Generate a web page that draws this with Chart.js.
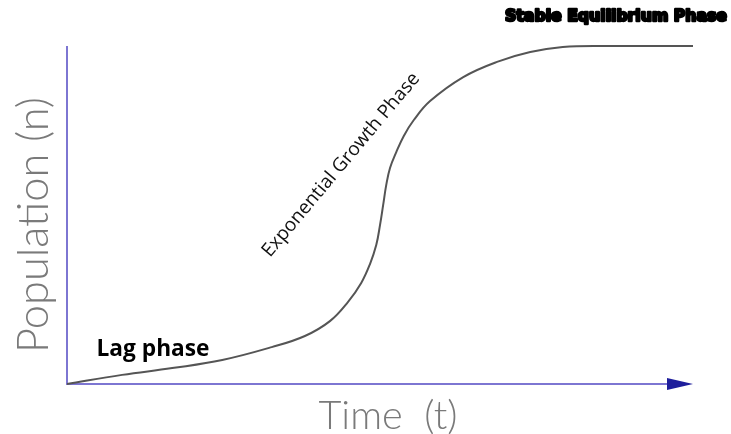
<!DOCTYPE html>
<html>
<head>
<meta charset="utf-8">
<script src="https://cdn.jsdelivr.net/npm/chart.js@4.4.1/dist/chart.umd.min.js"></script>
<style>
  html, body { margin: 0; padding: 0; background: #fff; }
  #wrap { width: 731px; height: 434px; position: relative; }
</style>
</head>
<body>
<div id="wrap"><canvas id="growthChart"></canvas></div>
<script>
// growth curve (time in % of axis, population in % of plateau)
const timeValues = [0, 8.8, 16.8, 24.8, 32.7, 38.0, 42.0, 44.9, 47.0, 48.4, 49.4, 50.0, 50.5, 51.0, 51.6, 52.6, 53.8, 55.4, 58.0, 63.3, 68.7, 74.0, 79.2, 85.1, 100];
const populationValues = [0, 2.7, 4.7, 7.1, 10.9, 14.2, 18.6, 24.3, 29.9, 35.5, 41.1, 47.0, 52.9, 58.9, 63.9, 68.6, 73.4, 78.1, 83.7, 90.8, 95.3, 98.2, 99.7, 100, 100];

const xTitle = 'Time  (t)';
const yTitle = 'Population (n)';
const phaseLabels = ['Lag phase', 'Exponential Growth Phase', 'Stable Equilibrium Phase'];

const points = timeValues.map((t, i) => ({ x: t, y: populationValues[i] }));

// size a font so the text spans the given width
function fitFont(ctx, text, weight, family, width) {
    ctx.font = `${weight} 20px ${family}`;
    const w = ctx.measureText(text).width;
    return `${weight} ${(20 * width / w).toFixed(2)}px ${family}`;
}

const axesPlugin = {
    id: 'axesPlugin',
    beforeDatasetsDraw(chart) {
        const { ctx, scales: { x, y } } = chart;
        const x0 = x.getPixelForValue(0), xEnd = x.getPixelForValue(100);
        const y0 = y.getPixelForValue(0), yTop = y.getPixelForValue(100);
        ctx.save();
        ctx.strokeStyle = '#7d76d2';
        ctx.lineWidth = 2;
        ctx.beginPath();
        ctx.moveTo(x0, yTop);
        ctx.lineTo(x0, y0);
        ctx.lineTo(xEnd - 20, y0);
        ctx.stroke();
        // arrow head
        ctx.fillStyle = '#1e1e9c';
        ctx.beginPath();
        ctx.moveTo(xEnd - 26, y0 - 6);
        ctx.lineTo(xEnd, y0);
        ctx.lineTo(xEnd - 26, y0 + 6);
        ctx.closePath();
        ctx.fill();
        ctx.restore();
    },
    afterDraw(chart) {
        const { ctx } = chart;
        ctx.save();
        ctx.textAlign = 'center';
        ctx.textBaseline = 'middle';

        // axis titles
        ctx.fillStyle = '#7a7a7a';
        ctx.font = fitFont(ctx, xTitle, 300, 'Lato, "DejaVu Sans", sans-serif', 139);
        ctx.fillText(xTitle, 388, 416);

        ctx.save();
        ctx.translate(34, 225);
        ctx.rotate(-Math.PI / 2);
        ctx.font = fitFont(ctx, yTitle, 300, 'Lato, "DejaVu Sans", sans-serif', 256);
        ctx.fillText(yTitle, 0, 0);
        ctx.restore();

        // phase labels
        ctx.fillStyle = '#000';
        ctx.font = fitFont(ctx, phaseLabels[0], 'bold', '"Open Sans", sans-serif', 113);
        ctx.fillText(phaseLabels[0], 153, 350);

        ctx.save();
        ctx.translate(341, 165);
        ctx.rotate(-50 * Math.PI / 180);
        ctx.fillStyle = '#111';
        ctx.font = fitFont(ctx, phaseLabels[1], 500, '"Open Sans", sans-serif', 234);
        ctx.fillText(phaseLabels[1], 0, 0);
        ctx.restore();

        ctx.font = fitFont(ctx, phaseLabels[2], 'bold', '"DejaVu Sans", sans-serif', 222);
        ctx.strokeStyle = '#000';
        ctx.lineWidth = 2.4;
        ctx.lineJoin = 'round';
        ctx.strokeText(phaseLabels[2], 616, 17);
        ctx.fillText(phaseLabels[2], 616, 17);
        ctx.restore();
    }
};

new Chart(document.getElementById('growthChart'), {
    type: 'line',
    data: {
        datasets: [{
            data: points,
            borderColor: '#555555',
            borderWidth: 2,
            pointRadius: 0,
            fill: false,
            tension: 0.4,
            clip: false
        }]
    },
    options: {
        responsive: true,
        maintainAspectRatio: false,
        animation: false,
        layout: { padding: { left: 67, right: 38, top: 46, bottom: 50 } },
        plugins: { legend: { display: false }, tooltip: { enabled: false } },
        scales: {
            x: { type: 'linear', min: 0, max: 100, display: false },
            y: { min: 0, max: 100, display: false }
        }
    },
    plugins: [axesPlugin]
});
</script>
</body>
</html>
